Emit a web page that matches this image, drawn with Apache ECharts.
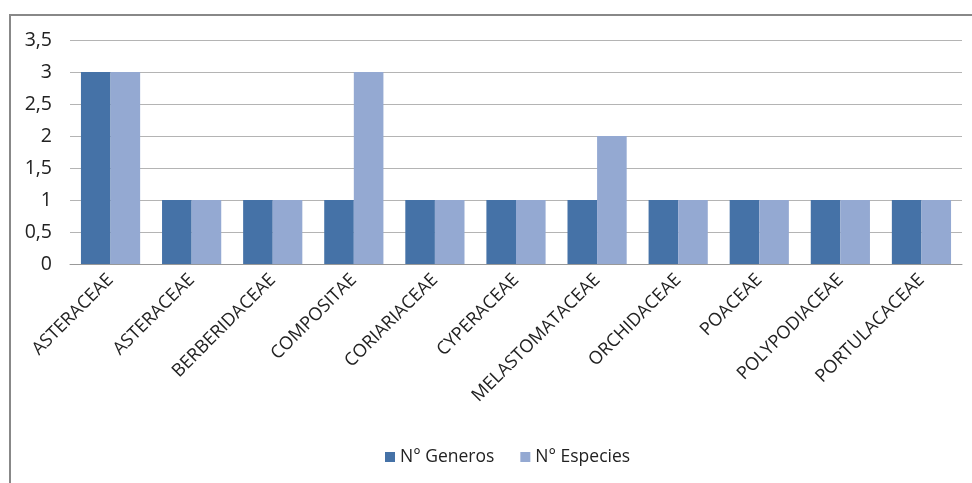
<!DOCTYPE html>
<html><head><meta charset="utf-8">
<script src="https://cdn.jsdelivr.net/npm/echarts@6/dist/echarts.min.js"></script>
<style>html,body{margin:0;padding:0;background:#fff}#c{width:972px;height:483px}</style>
</head><body><div id="c"></div>
<script>
const categories = ["ASTERACEAE","ASTERACEAE","BERBERIDACEAE","COMPOSITAE","CORIARIACEAE","CYPERACEAE","MELASTOMATACEAE","ORCHIDACEAE","POACEAE","POLYPODIACEAE","PORTULACACEAE"];
const generos = [3,1,1,1,1,1,1,1,1,1,1];
const especies = [3,1,1,3,1,1,2,1,1,1,1];
const seriesNames = ["N° Generos","N° Especies"];
const chart = echarts.init(document.getElementById('c'), null, {renderer:'canvas'});
const font = "'Open Sans', 'Liberation Sans', sans-serif";
chart.setOption({
  animation:false,
  graphic:[{type:'rect',shape:{x:10,y:15,width:1000,height:600},style:{fill:null,stroke:'#888',lineWidth:2},silent:true}],
  grid:{left:70,right:10,top:40,bottom:219,containLabel:false},
  legend:{bottom:12,left:380,itemWidth:10,itemHeight:10,itemGap:26,icon:'rect',
    textStyle:{fontFamily:font,fontSize:17.5,color:'#222'},data:seriesNames},
  xAxis:{type:'category',data:categories,
    axisLine:{lineStyle:{color:'#999',width:1}},axisTick:{show:false},
    axisLabel:{rotate:45,interval:0,margin:13,fontFamily:font,fontSize:18,color:'#222'}},
  yAxis:{type:'value',min:0,max:3.5,interval:0.5,
    axisLine:{show:false},axisTick:{show:false},
    splitLine:{lineStyle:{color:'#b4b4b4',width:1}},
    axisLabel:{margin:18,fontFamily:font,fontSize:19.5,color:'#222',formatter:v=>String(v).replace('.',',')}},
  series:[
    {name:seriesNames[0],type:'bar',data:generos,barGap:'0%',barCategoryGap:'27%',itemStyle:{color:'#4572A7'}},
    {name:seriesNames[1],type:'bar',data:especies,barGap:'0%',barCategoryGap:'27%',itemStyle:{color:'#94A9D2'}}
  ]
});
</script></body></html>
